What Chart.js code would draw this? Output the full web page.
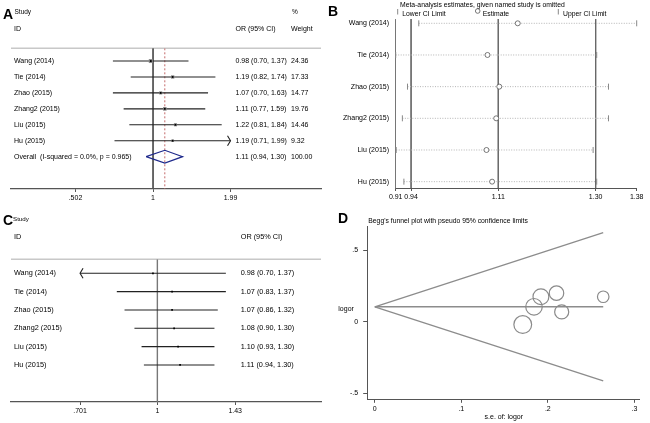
<!DOCTYPE html>
<html>
<head>
<meta charset="utf-8">
<script src="https://cdn.jsdelivr.net/npm/chart.js@4.4.0/dist/chart.umd.min.js"></script>
<style>
  html, body { margin: 0; padding: 0; background: #fff; }
  #wrap { position: relative; width: 650px; height: 423px; }
  canvas { position: absolute; }
</style>
</head>
<body>
<div id="wrap">
  <canvas id="panelA" width="325" height="210" style="left:0;top:0"></canvas>
  <canvas id="panelB" width="325" height="210" style="left:325px;top:0"></canvas>
  <canvas id="panelC" width="325" height="213" style="left:0;top:210px"></canvas>
  <canvas id="panelD" width="325" height="213" style="left:325px;top:210px"></canvas>
</div>
<script>
// Studies (same order in every panel)
const studies = ['Wang (2014)', 'Tie (2014)', 'Zhao (2015)', 'Zhang2 (2015)', 'Liu (2015)', 'Hu (2015)'];

// Panel A - forest plot
const orA = [0.98, 1.19, 1.07, 1.11, 1.22, 1.19];
const lowA = [0.70, 0.82, 0.70, 0.77, 0.81, 0.71];
const highA = [1.37, 1.74, 1.63, 1.59, 1.84, 1.99];
const weightA = [24.36, 17.33, 14.77, 19.76, 14.46, 9.32];
const overallA = [1.11, 0.94, 1.30]; // estimate, lower, upper
const overallLabel = 'Overall  (I-squared = 0.0%, p = 0.965)';
const ticksA = [0.502, 1, 1.99];
const tickLabelsA = ['.502', '1', '1.99'];

// Panel B - estimates with one study omitted
const estB = [1.148, 1.089, 1.112, 1.106, 1.087, 1.098];
const lowB = [0.955, 0.910, 0.933, 0.923, 0.911, 0.926];
const highB = [1.380, 1.302, 1.325, 1.325, 1.295, 1.302];
const refB = [0.94, 1.11, 1.30];
const ticksB = [0.91, 0.94, 1.11, 1.30, 1.38];
const tickLabelsB = ['0.91', '0.94', '1.11', '1.30', '1.38'];

// Panel C - cumulative forest plot
const orC = [0.98, 1.07, 1.07, 1.08, 1.10, 1.11];
const lowC = [0.70, 0.83, 0.86, 0.90, 0.93, 0.94];
const highC = [1.37, 1.37, 1.32, 1.30, 1.30, 1.30];
const ticksC = [0.701, 1, 1.43];
const tickLabelsC = ['.701', '1', '1.43'];

// Panel D - Begg's funnel plot
const seD = [0.171, 0.192, 0.216, 0.184, 0.210, 0.264];
const logorD = [-0.020, 0.174, 0.068, 0.104, 0.199, 0.174];
const funnelSe = [0, 0.264];
const funnelUpper = [0.104, 0.621];
const funnelMid = [0.104, 0.104];
const funnelLower = [0.104, -0.413];
const ticksDx = [0, 0.1, 0.2, 0.3];
const tickLabelsDx = ['0', '.1', '.2', '.3'];
const ticksDy = [-0.5, 0, 0.5];
const tickLabelsDy = ['-.5', '0', '.5'];

const FONT = '"Liberation Sans", Arial, Helvetica, sans-serif';
Chart.defaults.font.family = FONT;
Chart.defaults.font.size = 7;
Chart.defaults.color = '#000';
Chart.defaults.animation = false;
Chart.defaults.events = [];
Chart.defaults.plugins.legend.display = false;
Chart.defaults.plugins.tooltip.enabled = false;

function lineSet(points, color, width, dash) {
  return { data: points, showLine: true, borderColor: color, borderWidth: width,
           borderDash: dash || [], pointRadius: 0, fill: false, tension: 0 };
}
function fixedTicks(values) {
  return scale => { scale.ticks = values.map(v => ({ value: v })); };
}
function ciText(e, l, h) {
  return e.toFixed(2) + ' (' + l.toFixed(2) + ', ' + h.toFixed(2) + ')';
}
function chevron(ctx, x, y, dir) {
  ctx.beginPath();
  ctx.moveTo(x - dir * 3, y - 5);
  ctx.lineTo(x, y);
  ctx.lineTo(x - dir * 3, y + 5);
  ctx.stroke();
}
function topRule(ctx, area) {
  ctx.save();
  ctx.strokeStyle = '#c8c8c8';
  ctx.lineWidth = 1.5;
  ctx.beginPath();
  ctx.moveTo(area.left, area.top);
  ctx.lineTo(area.right, area.top);
  ctx.stroke();
  ctx.restore();
}
function forestX(min, max, tickVals, tickLabels) {
  return {
    min: min, max: max,
    afterBuildTicks: fixedTicks(tickVals.map(v => Math.log(v))),
    afterFit: s => { s.height = 18; },
    grid: { display: true, drawOnChartArea: false, drawTicks: true, tickLength: 3, color: '#555' },
    border: { display: true, color: '#555', width: 1.2 },
    ticks: { autoSkip: false, maxRotation: 0, minRotation: 0, padding: 2, font: { size: 7 },
             callback: (v, i) => tickLabels[i] }
  };
}

// ---------- Panel A ----------
const topA = -0.8, botA = 8.03, overallRow = 6;
const setsA = [];
setsA.push({ data: studies.map((s, i) => ({ x: Math.log(orA[i]), y: i })), pointStyle: 'rect',
             pointRadius: 1.3, backgroundColor: '#000', borderWidth: 0, clip: false });
setsA.push({ data: studies.map((s, i) => ({ x: Math.log(orA[i]), y: i })), pointStyle: 'rect',
             pointRadius: weightA.map(w => Math.sqrt(w) * 0.57), backgroundColor: '#8c8c8c', borderWidth: 0, clip: false });
setsA.push(lineSet([
  { x: Math.log(overallA[1]), y: overallRow },
  { x: Math.log(overallA[0]), y: overallRow - 0.4 },
  { x: Math.log(overallA[2]), y: overallRow },
  { x: Math.log(overallA[0]), y: overallRow + 0.4 },
  { x: Math.log(overallA[1]), y: overallRow }
], '#1f2a8c', 1.2));
studies.forEach((s, i) => {
  setsA.push(lineSet([
    { x: Math.log(Math.max(lowA[i], ticksA[0])), y: i },
    { x: Math.log(Math.min(highA[i], ticksA[ticksA.length - 1])), y: i }
  ], '#222', 1.1));
});
setsA.push(lineSet([{ x: Math.log(overallA[0]), y: topA }, { x: Math.log(overallA[0]), y: botA }], '#c46a6a', 1, [2, 2]));
setsA.push(lineSet([{ x: 0, y: topA }, { x: 0, y: botA }], '#555', 1));

const textA = {
  id: 'textA',
  beforeDatasetsDraw(chart) { topRule(chart.ctx, chart.chartArea); },
  afterDraw(chart) {
    const { ctx, scales: { x, y } } = chart;
    ctx.save();
    ctx.fillStyle = '#000';
    ctx.textBaseline = 'alphabetic';
    ctx.font = 'bold 14px ' + FONT;
    ctx.fillText('A', 3, 18.5);
    ctx.textBaseline = 'middle';
    ctx.font = '6.5px ' + FONT;
    ctx.fillText('Study', 14.5, 12.5);
    ctx.fillText('%', 292, 12.7);
    ctx.font = '7px ' + FONT;
    ctx.fillText('ID', 14, 29);
    ctx.fillText('OR (95% CI)', 235.5, 29);
    ctx.fillText('Weight', 291, 29);
    studies.forEach((s, i) => {
      const py = y.getPixelForValue(i);
      ctx.fillText(s, 14, py);
      ctx.fillText(ciText(orA[i], lowA[i], highA[i]), 235.5, py);
      ctx.fillText(weightA[i].toFixed(2), 291, py);
    });
    const po = y.getPixelForValue(overallRow);
    ctx.fillText(overallLabel, 14, po);
    ctx.fillText(ciText(overallA[0], overallA[1], overallA[2]), 235.5, po);
    ctx.fillText('100.00', 291, po);
    ctx.strokeStyle = '#222';
    ctx.lineWidth = 1.1;
    studies.forEach((s, i) => {
      const py = y.getPixelForValue(i);
      if (highA[i] >= ticksA[ticksA.length - 1]) chevron(ctx, x.getPixelForValue(Math.log(ticksA[ticksA.length - 1])), py, 1);
      if (lowA[i] <= ticksA[0]) chevron(ctx, x.getPixelForValue(Math.log(ticksA[0])), py, -1);
    });
    ctx.restore();
  }
};

new Chart(document.getElementById('panelA'), {
  type: 'scatter',
  data: { datasets: setsA },
  options: {
    responsive: false,
    layout: { padding: { left: 11, right: 2, top: 48.3, bottom: 3 } },
    scales: {
      x: forestX(-1.262, 1.492, ticksA, tickLabelsA),
      y: { display: false, reverse: true, min: topA, max: botA }
    }
  },
  plugins: [textA]
});

// ---------- Panel B ----------
const topB = -0.136, botB = 5.2;
const setsB = [];
setsB.push({ data: studies.map((s, i) => ({ x: estB[i], y: i })), pointStyle: 'circle', pointRadius: 2.5,
             borderColor: '#555', borderWidth: 0.8, backgroundColor: '#fff', clip: false });
setsB.push({ data: studies.flatMap((s, i) => [{ x: lowB[i], y: i }, { x: highB[i], y: i }]), pointStyle: 'line',
             rotation: 90, pointRadius: 3, borderColor: '#888', borderWidth: 1, clip: false });
studies.forEach((s, i) => {
  setsB.push(lineSet([{ x: lowB[i], y: i }, { x: highB[i], y: i }], '#b4b4b4', 1, [1, 1.5]));
});
refB.forEach(v => setsB.push(lineSet([{ x: v, y: topB }, { x: v, y: botB }], '#666', 0.9)));

const textB = {
  id: 'textB',
  afterDraw(chart) {
    const ctx = chart.ctx;
    ctx.save();
    ctx.fillStyle = '#000';
    ctx.textBaseline = 'alphabetic';
    ctx.font = 'bold 14px ' + FONT;
    ctx.fillText('B', 3, 15.5);
    ctx.textBaseline = 'middle';
    ctx.font = '6.8px ' + FONT;
    ctx.fillText('Meta-analysis estimates, given named study is omitted', 75, 5);
    ctx.fillText('Lower CI Limit', 77.3, 14);
    ctx.fillText('Estimate', 157.7, 14);
    ctx.fillText('Upper CI Limit', 238, 14);
    ctx.strokeStyle = '#888';
    ctx.lineWidth = 1;
    [72.7, 233.3].forEach(px => {
      ctx.beginPath(); ctx.moveTo(px, 9); ctx.lineTo(px, 14.5); ctx.stroke();
    });
    ctx.strokeStyle = '#555';
    ctx.lineWidth = 0.8;
    ctx.beginPath(); ctx.arc(152.7, 11, 2.3, 0, Math.PI * 2); ctx.stroke();
    ctx.restore();
  }
};

new Chart(document.getElementById('panelB'), {
  type: 'scatter',
  data: { datasets: setsB },
  options: {
    responsive: false,
    layout: { padding: { left: 10.7, right: 13.3, top: 19, bottom: 2 } },
    scales: {
      x: {
        min: ticksB[0], max: ticksB[ticksB.length - 1],
        afterBuildTicks: fixedTicks(ticksB),
        afterFit: s => { s.height = 20; },
        grid: { display: true, drawOnChartArea: false, drawTicks: true, tickLength: 3, color: '#555' },
        border: { display: true, color: '#555', width: 1 },
        ticks: { autoSkip: false, maxRotation: 0, minRotation: 0, padding: 2, callback: (v, i) => tickLabelsB[i] }
      },
      y: {
        reverse: true, min: topB, max: botB,
        afterBuildTicks: fixedTicks(studies.map((s, i) => i)),
        afterFit: s => { s.width = 60; },
        grid: { display: false, drawTicks: false },
        border: { display: true, color: '#666', width: 0.9 },
        ticks: { autoSkip: false, padding: 6.7, callback: v => studies[v] }
      }
    }
  },
  plugins: [textB]
});

// ---------- Panel C ----------
const topC = -0.764, botC = 7.02;
const setsC = [];
setsC.push({ data: studies.map((s, i) => ({ x: Math.log(orC[i]), y: i })), pointStyle: 'rect',
             pointRadius: 1.2, backgroundColor: '#000', borderWidth: 0, clip: false });
studies.forEach((s, i) => {
  setsC.push(lineSet([
    { x: Math.log(Math.max(lowC[i], ticksC[0])), y: i },
    { x: Math.log(Math.min(highC[i], ticksC[ticksC.length - 1])), y: i }
  ], '#222', 1.1));
});
setsC.push(lineSet([{ x: 0, y: topC }, { x: 0, y: botC }], '#777', 1.4));

const textC = {
  id: 'textC',
  beforeDatasetsDraw(chart) { topRule(chart.ctx, chart.chartArea); },
  afterDraw(chart) {
    const { ctx, scales: { x, y } } = chart;
    ctx.save();
    ctx.fillStyle = '#000';
    ctx.textBaseline = 'alphabetic';
    ctx.font = 'bold 14px ' + FONT;
    ctx.fillText('C', 3, 14.5);
    ctx.textBaseline = 'middle';
    ctx.font = '6.2px ' + FONT;
    ctx.fillText('Study', 13, 9);
    ctx.font = '7.3px ' + FONT;
    ctx.fillText('ID', 14, 26.7);
    ctx.fillText('OR (95% CI)', 240.7, 26.7);
    studies.forEach((s, i) => {
      const py = y.getPixelForValue(i);
      ctx.fillText(s, 14, py);
      ctx.fillText(ciText(orC[i], lowC[i], highC[i]), 240.7, py);
    });
    ctx.strokeStyle = '#222';
    ctx.lineWidth = 1.1;
    studies.forEach((s, i) => {
      const py = y.getPixelForValue(i);
      if (highC[i] >= ticksC[ticksC.length - 1]) chevron(ctx, x.getPixelForValue(Math.log(ticksC[ticksC.length - 1])), py, 1);
      if (lowC[i] < ticksC[0]) chevron(ctx, x.getPixelForValue(Math.log(ticksC[0])), py, -1);
    });
    ctx.restore();
  }
};

new Chart(document.getElementById('panelC'), {
  type: 'scatter',
  data: { datasets: setsC },
  options: {
    responsive: false,
    layout: { padding: { left: 11, right: 2, top: 49.3, bottom: 3 } },
    scales: {
      x: forestX(-0.6726, 0.752, ticksC, tickLabelsC),
      y: { display: false, reverse: true, min: topC, max: botC }
    }
  },
  plugins: [textC]
});

// ---------- Panel D ----------
const setsD = [];
setsD.push({ data: seD.map((s, i) => ({ x: s, y: logorD[i] })), pointStyle: 'circle',
             pointRadius: seD.map(s => 1.52 / s), borderColor: '#8a8a8a', borderWidth: 1.2,
             backgroundColor: 'rgba(0,0,0,0)', clip: false });
setsD.push(lineSet(funnelSe.map((s, i) => ({ x: s, y: funnelUpper[i] })), '#8c8c8c', 1.3));
setsD.push(lineSet(funnelSe.map((s, i) => ({ x: s, y: funnelMid[i] })), '#8c8c8c', 1.3));
setsD.push(lineSet(funnelSe.map((s, i) => ({ x: s, y: funnelLower[i] })), '#8c8c8c', 1.3));

const textD = {
  id: 'textD',
  afterDraw(chart) {
    const ctx = chart.ctx;
    ctx.save();
    ctx.fillStyle = '#000';
    ctx.textBaseline = 'alphabetic';
    ctx.font = 'bold 14px ' + FONT;
    ctx.fillText('D', 13, 13);
    ctx.textBaseline = 'middle';
    ctx.font = '6.8px ' + FONT;
    ctx.fillText("Begg's funnel plot with pseudo 95% confidence limits", 43.3, 11);
    ctx.font = '7px ' + FONT;
    ctx.fillText('logor', 13.3, 99.3);
    ctx.restore();
  }
};

new Chart(document.getElementById('panelD'), {
  type: 'scatter',
  data: { datasets: setsD },
  options: {
    responsive: false,
    layout: { padding: { left: 22.7, right: 1.7, top: 16.7, bottom: 1.5 } },
    scales: {
      x: {
        min: -0.0082, max: 0.3064,
        afterBuildTicks: fixedTicks(ticksDx),
        afterFit: s => { s.height = 22.2; },
        grid: { display: true, drawOnChartArea: false, drawTicks: true, tickLength: 3.5, color: '#555' },
        border: { display: true, color: '#555', width: 1 },
        ticks: { autoSkip: false, maxRotation: 0, minRotation: 0, padding: 2.5, callback: (v, i) => tickLabelsDx[i] },
        title: { display: true, text: 's.e. of: logor', font: { size: 7 }, padding: 0 }
      },
      y: {
        min: -0.542, max: 0.663,
        afterBuildTicks: fixedTicks(ticksDy),
        afterFit: s => { s.width = 20; },
        grid: { display: true, drawOnChartArea: false, drawTicks: true, tickLength: 4.5, color: '#555' },
        border: { display: true, color: '#555', width: 1 },
        ticks: { autoSkip: false, padding: 5, callback: (v, i) => tickLabelsDy[i] }
      }
    }
  },
  plugins: [textD]
});
</script>
</body>
</html>
